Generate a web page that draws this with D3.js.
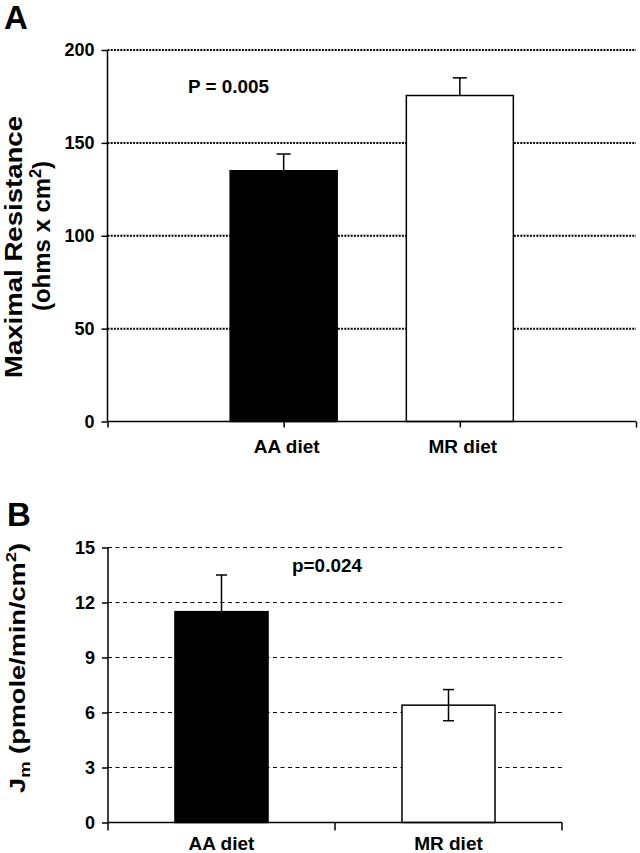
<!DOCTYPE html>
<html>
<head>
<meta charset="utf-8">
<script src="https://cdn.jsdelivr.net/npm/d3@7"></script>
<style>
  html, body { margin: 0; padding: 0; background: #fff; }
  svg { display: block; }
  text { font-family: "Liberation Sans", Arial, Helvetica, sans-serif; font-weight: bold; fill: #000; }
</style>
</head>
<body>
<svg id="chart" width="640" height="853"></svg>
<script>
// ---- Data ----
const categories = ["AA diet", "MR diet"];
const resistanceMeans = [135, 175.5];
const resistanceErr = [9, 9.5];
const fluxMeans = [11.5, 6.4];
const fluxErr = [2.0, 0.85];
const resistanceTicks = [0, 50, 100, 150, 200];
const fluxTicks = [0, 3, 6, 9, 12, 15];
const pTextA = "P = 0.005";
const pTextB = "p=0.024";

const svg = d3.select("#chart");

// ================= Panel A =================
(function panelA() {
  const g = svg.append("g");
  const x = d3.scaleLinear().domain([0, 3]).range([107.5, 636]);
  const y = d3.scaleLinear().domain([0, 200]).range([421.5, 50]);
  const barW = 107;

  g.selectAll("line.grid").data(resistanceTicks.filter(t => t > 0)).join("line")
    .attr("x1", x(0)).attr("x2", x(3))
    .attr("y1", d => y(d)).attr("y2", d => y(d))
    .attr("stroke", "#000").attr("stroke-width", 2)
    .attr("stroke-dasharray", "2,1.2");

  const data = categories.map((c, i) => ({ c, v: resistanceMeans[i], e: resistanceErr[i], i }));
  g.selectAll("rect.bar").data(data).join("rect")
    .attr("x", d => x(d.i + 1) - barW / 2)
    .attr("width", barW)
    .attr("y", d => y(d.v))
    .attr("height", d => y(0) - y(d.v))
    .attr("fill", d => d.i === 0 ? "#000" : "#fff")
    .attr("stroke", "#000").attr("stroke-width", 1.5);

  g.selectAll("line.err").data(data).join("line")
    .attr("x1", d => x(d.i + 1)).attr("x2", d => x(d.i + 1))
    .attr("y1", d => y(d.v)).attr("y2", d => y(d.v + d.e))
    .attr("stroke", "#000").attr("stroke-width", 1.5);
  g.selectAll("line.cap").data(data).join("line")
    .attr("x1", d => x(d.i + 1) - 7).attr("x2", d => x(d.i + 1) + 7)
    .attr("y1", d => y(d.v + d.e)).attr("y2", d => y(d.v + d.e))
    .attr("stroke", "#000").attr("stroke-width", 1.5);

  const yAxis = d3.axisLeft(y).tickValues(resistanceTicks).tickSize(6).tickPadding(7);
  const ya = g.append("g").attr("transform", `translate(${x(0)},0)`).call(yAxis);
  ya.select(".domain").attr("d", `M0,${y(200)}V${y(0)}`).attr("stroke-width", 1.5);
  ya.selectAll(".tick line").attr("stroke-width", 1.5);
  ya.selectAll(".tick text").attr("font-size", 18).attr("font-family", null).attr("font-weight", "bold");

  const xAxis = d3.axisBottom(x).tickValues([0, 1, 2, 3]).tickSize(6).tickFormat("");
  const xa = g.append("g").attr("transform", `translate(0,${y(0)})`).call(xAxis);
  xa.select(".domain").attr("d", `M${x(0)},0H${x(3)}`).attr("stroke-width", 1.5);
  xa.selectAll(".tick line").attr("stroke-width", 1.5);

  g.selectAll("text.cat").data(categories).join("text")
    .attr("x", (d, i) => x(i + 1) + 3).attr("y", 453)
    .attr("text-anchor", "middle").attr("font-size", 19)
    .text(d => d);

  g.append("text").attr("x", 188).attr("y", 93).attr("font-size", 17.5)
    .attr("textLength", 81).attr("lengthAdjust", "spacingAndGlyphs").text(pTextA);

  g.append("text").attr("x", 4).attr("y", 29).attr("font-size", 33).text("A");

  g.append("text").attr("transform", "translate(22,247) rotate(-90)")
    .attr("text-anchor", "middle").attr("font-size", 24)
    .attr("textLength", 262).attr("lengthAdjust", "spacingAndGlyphs")
    .text("Maximal Resistance");
  const l2 = g.append("text").attr("transform", "translate(50,236) rotate(-90)")
    .attr("text-anchor", "middle").attr("font-size", 23.5)
    .attr("textLength", 150).attr("lengthAdjust", "spacingAndGlyphs");
  l2.append("tspan").text("(ohms x cm");
  l2.append("tspan").attr("font-size", 16).attr("dy", -9).text("2");
  l2.append("tspan").attr("dy", 9).text(")");
})();

// ================= Panel B =================
(function panelB() {
  const g = svg.append("g");
  const x = d3.scaleBand().domain(categories).range([108, 562]).padding(0);
  const y = d3.scaleLinear().domain([0, 15]).range([822.5, 547.5]);
  const barW = x.bandwidth() * 0.41;

  g.selectAll("line.grid").data(fluxTicks.filter(t => t > 0)).join("line")
    .attr("x1", 108).attr("x2", 562)
    .attr("y1", d => y(d)).attr("y2", d => y(d))
    .attr("stroke", "#000").attr("stroke-width", 1)
    .attr("stroke-dasharray", "4,3.5");

  const data = categories.map((c, i) => ({ c, v: fluxMeans[i], e: fluxErr[i], i }));
  const cx = d => x(d.c) + x.bandwidth() / 2;

  g.selectAll("rect.bar").data(data).join("rect")
    .attr("x", d => cx(d) - barW / 2)
    .attr("width", barW)
    .attr("y", d => y(d.v))
    .attr("height", d => y(0) - y(d.v))
    .attr("fill", d => d.i === 0 ? "#000" : "#fff")
    .attr("stroke", "#000").attr("stroke-width", 1.5);

  g.selectAll("line.err").data(data).join("line")
    .attr("x1", cx).attr("x2", cx)
    .attr("y1", d => y(d.v - d.e)).attr("y2", d => y(d.v + d.e))
    .attr("stroke", "#000").attr("stroke-width", 1.5);
  g.selectAll("line.capTop").data(data).join("line")
    .attr("x1", d => cx(d) - 5.5).attr("x2", d => cx(d) + 5.5)
    .attr("y1", d => y(d.v + d.e)).attr("y2", d => y(d.v + d.e))
    .attr("stroke", "#000").attr("stroke-width", 1.5);
  g.selectAll("line.capBot").data(data).join("line")
    .attr("x1", d => cx(d) - 5.5).attr("x2", d => cx(d) + 5.5)
    .attr("y1", d => y(d.v - d.e)).attr("y2", d => y(d.v - d.e))
    .attr("stroke", "#000").attr("stroke-width", 1.5);

  const yAxis = d3.axisLeft(y).tickValues(fluxTicks).tickSize(6).tickPadding(7);
  const ya = g.append("g").attr("transform", `translate(108,0)`).call(yAxis);
  ya.select(".domain").attr("d", `M0,${y(15)}V${y(0)}`).attr("stroke-width", 1.5);
  ya.selectAll(".tick line").attr("stroke-width", 1.5);
  ya.selectAll(".tick text").attr("font-size", 18).attr("font-family", null).attr("font-weight", "bold");

  const edges = [108, 108 + x.bandwidth(), 562];
  const xa = g.append("g").attr("transform", `translate(0,${y(0)})`);
  xa.append("line").attr("x1", 108).attr("x2", 562).attr("y1", 0).attr("y2", 0)
    .attr("stroke", "#000").attr("stroke-width", 1.5);
  xa.selectAll("line.tk").data(edges).join("line")
    .attr("x1", d => d).attr("x2", d => d).attr("y1", 0).attr("y2", 8)
    .attr("stroke", "#000").attr("stroke-width", 1.5);

  g.selectAll("text.cat").data(categories).join("text")
    .attr("x", d => x(d) + x.bandwidth() / 2).attr("y", 850)
    .attr("text-anchor", "middle").attr("font-size", 19)
    .text(d => d);

  g.append("text").attr("x", 292).attr("y", 572).attr("font-size", 18)
    .attr("textLength", 70).attr("lengthAdjust", "spacingAndGlyphs").text(pTextB);

  g.append("text").attr("x", 7).attr("y", 526).attr("font-size", 33).text("B");

  const lb = g.append("text").attr("transform", "translate(25,668) rotate(-90)")
    .attr("text-anchor", "middle").attr("font-size", 22)
    .attr("textLength", 250).attr("lengthAdjust", "spacingAndGlyphs");
  lb.append("tspan").text("J");
  lb.append("tspan").attr("font-size", 15).attr("dy", 5).text("m");
  lb.append("tspan").attr("dy", -5).text(" (pmole/min/cm");
  lb.append("tspan").attr("font-size", 15).attr("dy", -9).text("2");
  lb.append("tspan").attr("dy", 9).text(")");
})();
</script>
</body>
</html>
